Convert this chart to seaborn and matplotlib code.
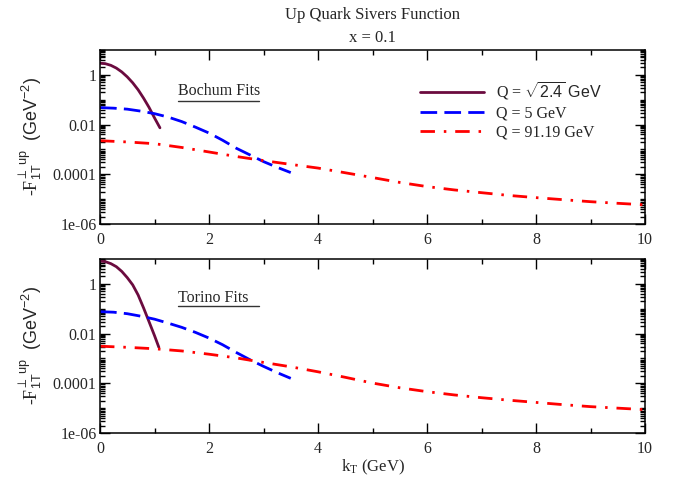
import numpy as np
import pandas as pd
import matplotlib
matplotlib.use("Agg")
import matplotlib.pyplot as plt
import seaborn as sns
from matplotlib.ticker import FixedLocator, FixedFormatter, LogLocator, NullFormatter, MultipleLocator

# ---------------- data ----------------
# Bochum fits (top panel)
k_low_b = [0.0, 0.1, 0.2, 0.3, 0.4, 0.5, 0.6, 0.7, 0.8, 0.9, 1.0, 1.1]
f_low_b = [2.95, 2.81, 2.41, 1.87, 1.31, 0.83, 0.48, 0.25, 0.115, 0.049, 0.0186, 0.0074]

k_mid_b = [0.0, 0.25, 0.5, 0.75, 1.0, 1.25, 1.5, 1.75, 2.0, 2.25, 2.5, 2.75, 3.0, 3.25, 3.5]
f_mid_b = [0.048, 0.0457, 0.0417, 0.0347, 0.0275, 0.020, 0.0132, 0.0079, 0.00457,
           0.00234, 0.00112, 0.000603, 0.000324, 0.000191, 0.000117]

k_hi = [0.0, 0.5, 1.0, 1.5, 2.0, 2.5, 3.0, 3.5, 4.0, 4.5, 5.0, 5.5, 6.0, 6.5, 7.0,
        7.5, 8.0, 8.5, 9.0, 9.5, 10.0]
f_hi_b = [0.00224, 0.0020, 0.0017, 0.0012, 0.00079, 0.00052, 0.000355, 0.00025,
          0.000178, 0.000115, 7.4e-5, 4.7e-5, 3.2e-5, 2.35e-5, 1.82e-5, 1.41e-5,
          1.15e-5, 9.5e-6, 7.9e-6, 6.8e-6, 5.9e-6]

# Torino fits (bottom panel)
k_low_t = [0.0, 0.1, 0.2, 0.3, 0.4, 0.5, 0.6, 0.7, 0.8, 0.9, 1.0, 1.08]
f_low_t = [8.3, 7.8, 6.5, 4.9, 3.16, 1.78, 0.91, 0.355, 0.107, 0.030, 0.0083, 0.0028]

k_mid_t = k_mid_b
f_mid_t = [0.076, 0.0724, 0.063, 0.050, 0.038, 0.0263, 0.0178, 0.0112, 0.0066,
           0.00355, 0.00174, 0.00089, 0.00048, 0.000269, 0.000158]

f_hi_t = [0.0031, 0.0028, 0.00245, 0.0020, 0.00148, 0.00105, 0.00069, 0.00046,
          0.00029, 0.000174, 0.000102, 6.6e-5, 4.6e-5, 3.4e-5, 2.63e-5, 2.09e-5,
          1.7e-5, 1.38e-5, 1.15e-5, 1.0e-5, 8.7e-6]

labels = [r'Q = $\sqrt{\mathsf{2.4}}$ $\mathsf{GeV}$', 'Q = 5 GeV', 'Q = 91.19 GeV']
panel_names = ['Bochum Fits', 'Torino Fits']
ytick_vals = [1e-6, 1e-4, 1e-2, 1]
ytick_labels = ['1e-06', '0.0001', '0.01', '1']
xtick_vals = [0, 2, 4, 6, 8, 10]

# ---------------- style ----------------
sns.set_style("ticks")
plt.rcParams['font.family'] = ['Liberation Serif', 'DejaVu Serif']
plt.rcParams['mathtext.fontset'] = 'custom'
plt.rcParams['mathtext.rm'] = 'Liberation Serif'
plt.rcParams['mathtext.it'] = 'Liberation Serif:italic'
plt.rcParams['mathtext.bf'] = 'Liberation Serif:bold'
plt.rcParams['mathtext.sf'] = 'Liberation Sans'

colors = ['#6b0b3f', '#0000ff', '#ff0000']
lw = 2.0
styles = ['-', (0, (6, 2.6)), (0, (5.2, 3.2, 0.9, 3.2))]

fig = plt.figure(figsize=(6.74, 4.79), dpi=100)
L, R = 100 / 674, 645 / 674
ax_top = fig.add_axes([L, 1 - 224 / 479, R - L, 174 / 479])
ax_bot = fig.add_axes([L, 1 - 433 / 479, R - L, 174 / 479])

panels = [
    (ax_top, [(k_low_b, f_low_b), (k_mid_b, f_mid_b), (k_hi, f_hi_b)], panel_names[0], 0.765, 0.708),
    (ax_bot, [(k_low_t, f_low_t), (k_mid_t, f_mid_t), (k_hi, f_hi_t)], panel_names[1], 0.775, 0.728),
]

for i, (ax, series, name, ty, uy) in enumerate(panels):
    for j, (kk, ff) in enumerate(series):
        df = pd.DataFrame({'k': kk, 'f': ff})
        sns.lineplot(data=df, x='k', y='f', ax=ax, color=colors[j], linewidth=lw,
                     linestyle=styles[j], label=labels[j] if i == 0 else None,
                     legend=False, sort=False)
    ax.set_yscale('log')
    ax.set_xlim(0, 10)
    ax.set_ylim(1e-6, 10)
    ax.yaxis.set_major_locator(FixedLocator(ytick_vals))
    ax.yaxis.set_major_formatter(FixedFormatter(ytick_labels))
    ax.yaxis.set_minor_locator(LogLocator(base=10, subs=np.arange(1, 10), numticks=100))
    ax.yaxis.set_minor_formatter(NullFormatter())
    ax.xaxis.set_major_locator(FixedLocator(xtick_vals))
    ax.xaxis.set_minor_locator(MultipleLocator(1))
    ax.tick_params(which='both', direction='in', top=True, right=True, labelsize=11.5,
                   width=1.0, color='black')
    ax.tick_params(axis='x', which='major', length=7, pad=6)
    ax.tick_params(axis='x', which='minor', length=3.5)
    ax.tick_params(axis='y', which='major', length=7, pad=2.5)
    ax.tick_params(axis='y', which='minor', length=3.5)
    for s in ax.spines.values():
        s.set_linewidth(1.1)
        s.set_color('black')
    ax.set_xlabel('')
    ax.set_ylabel(r'-F$_{\mathsf{1T}}^{\mathsf{\perp\ up}}$  $\mathsf{(GeV^{-2})}$',
                  fontsize=13, labelpad=6)
    ax.text(0.143, ty, name, transform=ax.transAxes, fontsize=11.5, ha='left', va='center')
    ax.plot([0.143, 0.292], [uy, uy], transform=ax.transAxes, color='#333333', lw=1.0)

ax_top.legend(loc='upper left', bbox_to_anchor=(0.587, 0.825), frameon=False,
              fontsize=11.5, handlelength=4.0, handletextpad=0.75, borderpad=0,
              borderaxespad=0, labelspacing=0.2)

ax_bot.set_xlabel(r'k$_{\mathrm{T}}$ (GeV)', fontsize=12, labelpad=0)
fig.text((L + R) / 2, 1 - 15 / 479, 'Up Quark Sivers Function', ha='center', va='center', fontsize=12)
fig.text((L + R) / 2, 1 - 38 / 479, 'x = 0.1', ha='center', va='center', fontsize=12)

fig.savefig('out.png', dpi=100)
